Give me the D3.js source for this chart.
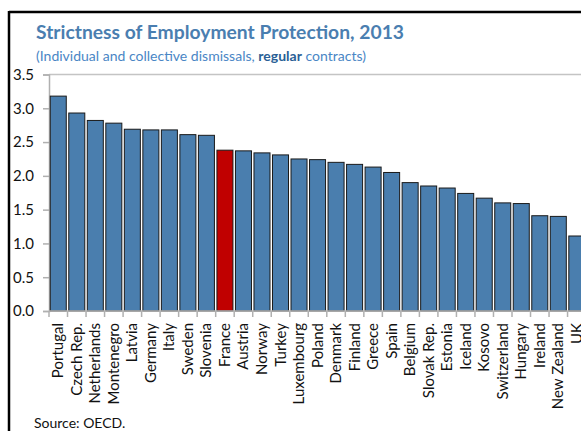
<!DOCTYPE html>
<html>
<head>
<meta charset="utf-8">
<script src="https://cdn.jsdelivr.net/npm/d3@7"></script>
<style>
  html, body { margin: 0; padding: 0; background: #fff; }
  svg { display: block; font-family: Lato, "Open Sans", sans-serif; }
</style>
</head>
<body>
<script>
const categories = ["Portugal","Czech Rep.","Netherlands","Montenegro","Latvia","Germany","Italy","Sweden","Slovenia","France","Austria","Norway","Turkey","Luxembourg","Poland","Denmark","Finland","Greece","Spain","Belgium","Slovak Rep.","Estonia","Iceland","Kosovo","Switzerland","Hungary","Ireland","New Zealand","UK"];
const values = [3.18,2.93,2.82,2.78,2.69,2.68,2.68,2.61,2.60,2.38,2.37,2.34,2.31,2.25,2.24,2.20,2.17,2.13,2.05,1.90,1.85,1.82,1.74,1.67,1.60,1.59,1.41,1.40,1.11];
const highlight = ["France"];
const yTicks = [0, 0.5, 1.0, 1.5, 2.0, 2.5, 3.0, 3.5];
const titleText = "Strictness of Employment Protection, 2013";
const sourceText = "Source: OECD.";

const W = 581, H = 431;
const svg = d3.select("body").append("svg").attr("width", W).attr("height", H);

// frame
svg.append("line").attr("x1", 9).attr("x2", W).attr("y1", 12).attr("y2", 12).attr("stroke", "#000").attr("stroke-width", 2.5);
svg.append("line").attr("x1", 9).attr("x2", 9).attr("y1", 11).attr("y2", H).attr("stroke", "#000").attr("stroke-width", 2.5);

// title
svg.append("text").attr("x", 36).attr("y", 39)
  .attr("font-size", 19.5).attr("font-weight", "bold").attr("fill", "#4a7eb0")
  .attr("textLength", 368).attr("lengthAdjust", "spacingAndGlyphs")
  .text(titleText);
const sub = svg.append("text").attr("x", 36).attr("y", 61)
  .attr("font-size", 14).attr("fill", "#4a86c5")
  .attr("textLength", 330).attr("lengthAdjust", "spacingAndGlyphs");
sub.append("tspan").text("(Individual and collective dismissals, ");
sub.append("tspan").attr("font-weight", "bold").attr("fill", "#2a5f96").text("regular");
sub.append("tspan").text(" contracts)");

const x0 = 49, step = 18.52;
const x = d3.scaleBand().domain(categories).range([x0, x0 + categories.length * step])
  .paddingInner(0.135).paddingOuter(0.0675);
const y = d3.scaleLinear().domain([0, 3.5]).range([311, 74.5]);

// top border of plot area
svg.append("line").attr("x1", x0).attr("x2", W).attr("y1", y(3.5)).attr("y2", y(3.5))
  .attr("stroke", "#c4c4c4").attr("stroke-width", 1.5);

// y axis
const yAxis = d3.axisLeft(y).tickValues(yTicks).tickFormat(d3.format(".1f")).tickSize(6).tickPadding(10);
const gy = svg.append("g").attr("transform", `translate(${x0},0)`).call(yAxis);
gy.select(".domain").attr("stroke", "#b0b0b0").attr("stroke-width", 1.5);
gy.selectAll(".tick line").attr("stroke", "#b0b0b0").attr("stroke-width", 1.5);
gy.selectAll(".tick text").attr("font-size", 15).attr("fill", "#111")
  .attr("font-family", "Lato, sans-serif").attr("x", -15);

// bars
svg.append("g").selectAll("rect").data(categories).join("rect")
  .attr("x", d => x(d))
  .attr("y", (d, i) => y(values[i]))
  .attr("width", x.bandwidth())
  .attr("height", (d, i) => y(0) - y(values[i]))
  .attr("fill", d => highlight.includes(d) ? "#c00000" : "#4a7eae")
  .attr("stroke", "#1a1a1a").attr("stroke-width", 1);

// x axis baseline and ticks at band boundaries
svg.append("line").attr("x1", x0).attr("x2", W).attr("y1", y(0)).attr("y2", y(0))
  .attr("stroke", "#b0b0b0").attr("stroke-width", 1.5);
svg.append("g").selectAll("line").data(d3.range(categories.length + 1)).join("line")
  .attr("x1", i => x0 + i * x.step()).attr("x2", i => x0 + i * x.step())
  .attr("y1", y(0)).attr("y2", y(0) + 6)
  .attr("stroke", "#b0b0b0").attr("stroke-width", 1.5);

// category labels
svg.append("g").selectAll("text").data(categories).join("text")
  .attr("transform", d => `translate(${x(d) + x.bandwidth() / 2 + 5},${y(0) + 12}) rotate(-90)`)
  .attr("text-anchor", "end")
  .attr("font-size", 15).attr("fill", "#111")
  .text(d => d);

// source
svg.append("text").attr("x", 34).attr("y", 428).attr("font-size", 14).attr("fill", "#111").text(sourceText);
</script>
</body>
</html>
